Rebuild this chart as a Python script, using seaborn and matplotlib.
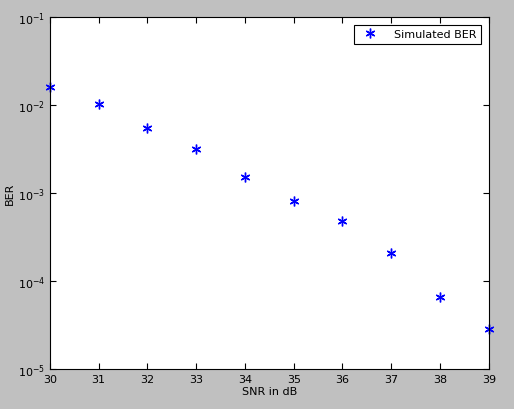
import numpy as np
import pandas as pd
import matplotlib
matplotlib.use("Agg")
import matplotlib.pyplot as plt
import seaborn as sns

snr_db = [30, 31, 32, 33, 34, 35, 36, 37, 38, 39]
ber = [1.6e-2, 1.03e-2, 5.5e-3, 3.2e-3, 1.52e-3, 8.1e-4, 4.8e-4, 2.1e-4, 6.6e-5, 2.85e-5]

df = pd.DataFrame({"SNR in dB": snr_db, "BER": ber})

sns.set_style("ticks")
plt.rcParams["font.family"] = ["DejaVu Sans"]
plt.rcParams["text.color"] = "black"
plt.rcParams["xtick.color"] = "black"
plt.rcParams["ytick.color"] = "black"
plt.rcParams["axes.labelcolor"] = "black"

fig = plt.figure(figsize=(5.14, 4.10), dpi=100, facecolor="#c0c0c0")
ax = fig.add_axes([0.097, 0.098, 0.854, 0.858])
ax.set_facecolor("white")

ax.plot(df["SNR in dB"], df["BER"], linestyle="none", marker=(6, 2, 0), color="blue",
        markersize=7, markeredgewidth=1.0, label="Simulated BER", clip_on=False)
ax.set_yscale("log")
ax.set_xlim(30, 39)
ax.set_ylim(1e-5, 1e-1)
ax.set_xticks(snr_db)
ax.set_yticks([1e-5, 1e-4, 1e-3, 1e-2, 1e-1])
ax.minorticks_off()
ax.tick_params(direction="in", top=True, right=True, labelsize=8, length=4)
for s in ax.spines.values():
    s.set_color("black")
    s.set_linewidth(0.8)
ax.set_xlabel("SNR in dB", fontsize=8, labelpad=2)
ax.set_ylabel("BER", fontsize=8, labelpad=2)

leg = ax.legend(loc="upper right", fontsize=8, fancybox=False, framealpha=1,
                edgecolor="black", handletextpad=1.2, borderaxespad=0.7)
leg.get_frame().set_linewidth(0.8)

fig.savefig("out.png", dpi=100, facecolor=fig.get_facecolor())
